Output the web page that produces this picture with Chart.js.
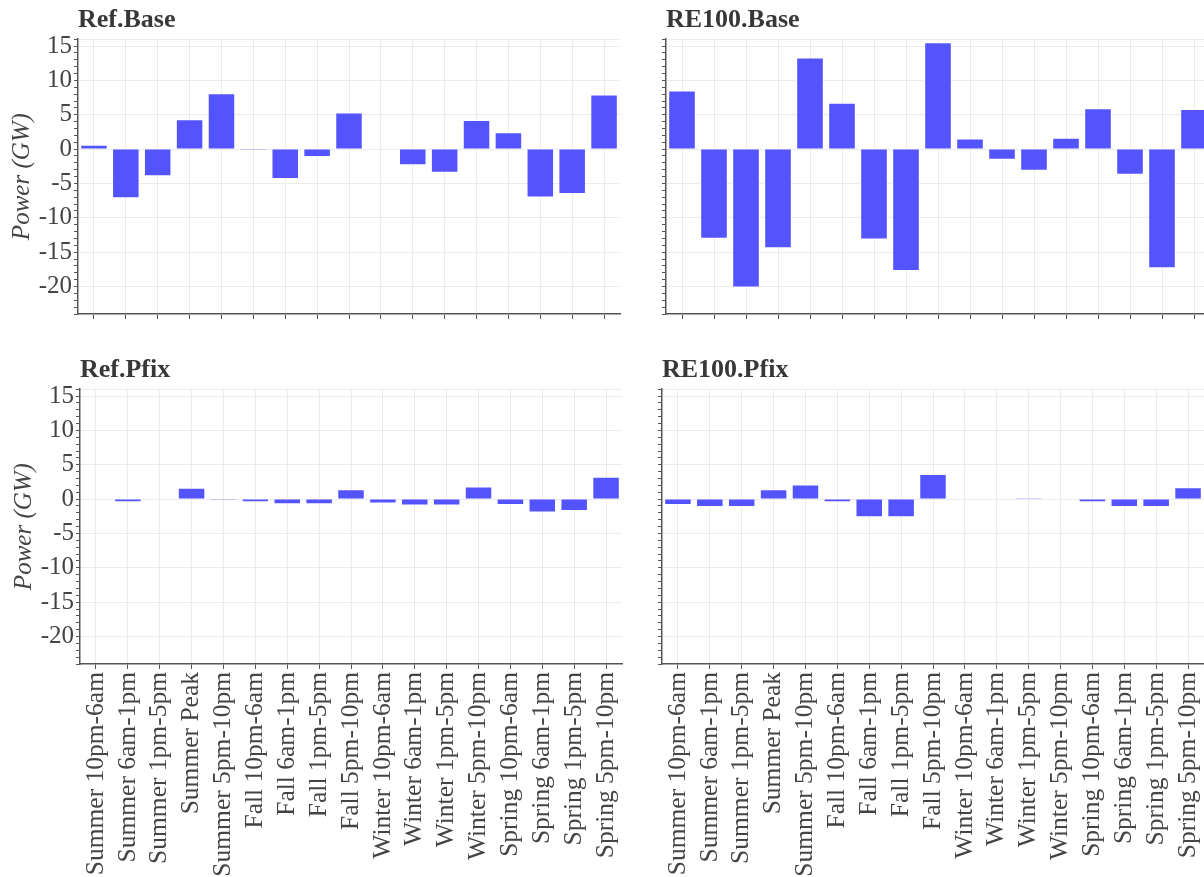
<!DOCTYPE html>
<html>
<head>
<meta charset="utf-8">
<script src="https://cdn.jsdelivr.net/npm/chart.js@4.4.1/dist/chart.umd.min.js"></script>
<style>
  html, body { margin: 0; padding: 0; background: #ffffff; }
  body { width: 1204px; height: 877px; overflow: hidden; position: relative; }
  .panel { position: absolute; }
  canvas { display: block; }
</style>
</head>
<body>
<div class="panel" style="left:0px;top:0px;"><canvas id="c1" width="640" height="324"></canvas></div>
<div class="panel" style="left:656px;top:0px;"><canvas id="c2" width="554" height="324"></canvas></div>
<div class="panel" style="left:2px;top:350px;"><canvas id="c3" width="640" height="527"></canvas></div>
<div class="panel" style="left:652px;top:350px;"><canvas id="c4" width="552" height="527"></canvas></div>
<script>
// ---- data ----
const categories = [
  "Summer 10pm-6am", "Summer 6am-1pm", "Summer 1pm-5pm", "Summer Peak", "Summer 5pm-10pm",
  "Fall 10pm-6am", "Fall 6am-1pm", "Fall 1pm-5pm", "Fall 5pm-10pm",
  "Winter 10pm-6am", "Winter 6am-1pm", "Winter 1pm-5pm", "Winter 5pm-10pm",
  "Spring 10pm-6am", "Spring 6am-1pm", "Spring 1pm-5pm", "Spring 5pm-10pm"
];
const refBase   = [0.5, -7.0, -3.8, 4.2, 8.0, -0.1, -4.2, -1.0, 5.2, 0.1, -2.2, -3.3, 4.1, 2.3, -6.9, -6.4, 7.8];
const re100Base = [8.4, -12.9, -20.0, -14.3, 13.2, 6.6, -13.0, -17.6, 15.4, 1.4, -1.4, -3.0, 1.5, 5.8, -3.6, -17.2, 5.7];
const refPfix   = [0.0, -0.3, 0.1, 1.5, -0.1, -0.3, -0.6, -0.6, 1.3, -0.5, -0.8, -0.8, 1.7, -0.7, -1.8, -1.6, 3.1];
const re100Pfix = [-0.7, -1.0, -1.0, 1.3, 2.0, -0.3, -2.5, -2.5, 3.5, 0.0, 0.0, 0.05, 0.0, -0.3, -1.0, -1.0, 1.6];
const panelTitles = ["Ref.Base", "RE100.Base", "Ref.Pfix", "RE100.Pfix"];
const yMin = -24, yMax = 16, yMajorStep = 5;
const yAxisTitle = "Power (GW)";

// ---- style ----
const FONT = "'Liberation Serif', 'Times New Roman', serif";
const TEXT = "#444444";
const BAR = "rgb(84,84,255)";
const GRID = "#ebebeb";
const AXIS = "#555555";

Chart.defaults.font.family = FONT;
Chart.defaults.color = TEXT;

function makeChart(id, title, values, o) {
  const ctx = document.getElementById(id);
  return new Chart(ctx, {
    type: "bar",
    data: {
      labels: categories,
      datasets: [{
        data: values,
        backgroundColor: BAR,
        borderWidth: 0,
        categoryPercentage: 0.8,
        barPercentage: 1.0
      }]
    },
    options: {
      responsive: false,
      animation: false,
      devicePixelRatio: 1,
      layout: { padding: { left: 0, right: o.padRight, top: 0, bottom: 0 } },
      plugins: {
        legend: { display: false },
        tooltip: { enabled: false },
        title: {
          display: true,
          text: title,
          align: "start",
          fullSize: false,
          color: "#383838",
          font: { family: FONT, size: 26, weight: "bold" },
          padding: { top: 5, bottom: 3 }
        }
      },
      scales: {
        x: {
          offset: true,
          grid: {
            offset: false,
            color: GRID,
            lineWidth: 1,
            drawTicks: true,
            tickLength: 5,
            tickColor: AXIS,
            tickWidth: 1
          },
          border: { display: true, color: AXIS, width: 1.5 },
          ticks: {
            display: o.showX,
            autoSkip: false,
            maxRotation: 90,
            minRotation: 90,
            padding: 3,
            color: TEXT,
            font: { family: FONT, size: 25.5 }
          },
          afterFit: (s) => { s.height = o.xHeight; s.paddingLeft = 0; s.paddingRight = 0; }
        },
        y: {
          min: yMin,
          max: yMax,
          afterBuildTicks: (s) => {
            const t = [];
            for (let v = yMin; v <= yMax; v++) t.push({ value: v });
            s.ticks = t;
          },
          grid: {
            color: (c) => (c.tick && (c.tick.value % yMajorStep === 0 || c.tick.value === yMax)) ? GRID : "rgba(0,0,0,0)",
            lineWidth: 1,
            drawTicks: true,
            tickLength: 4,
            tickColor: AXIS,
            tickWidth: 1
          },
          border: { display: true, color: AXIS, width: 1.5 },
          ticks: {
            display: o.showY,
            autoSkip: false,
            padding: 2,
            color: TEXT,
            font: { family: FONT, size: 25 },
            callback: (v) => (v % yMajorStep === 0 && v !== yMin && v !== yMax) ? String(v) : ""
          },
          title: {
            display: o.showY,
            text: yAxisTitle,
            color: TEXT,
            font: { family: FONT, size: 25, style: "italic" },
            padding: { top: 7, bottom: 0 }
          },
          afterFit: (s) => { s.width = o.yWidth; s.paddingTop = 0; s.paddingBottom = 0; }
        }
      }
    }
  });
}

makeChart("c1", panelTitles[0], refBase,   { showX: false, showY: true,  yWidth: 78, xHeight: 10,  padRight: 20 });
makeChart("c2", panelTitles[1], re100Base, { showX: false, showY: false, yWidth: 10, xHeight: 10,  padRight: 0 });
makeChart("c3", panelTitles[2], refPfix,   { showX: true,  showY: true,  yWidth: 78, xHeight: 213, padRight: 20 });
makeChart("c4", panelTitles[3], re100Pfix, { showX: true,  showY: false, yWidth: 10, xHeight: 213, padRight: 0 });
</script>
</body>
</html>
